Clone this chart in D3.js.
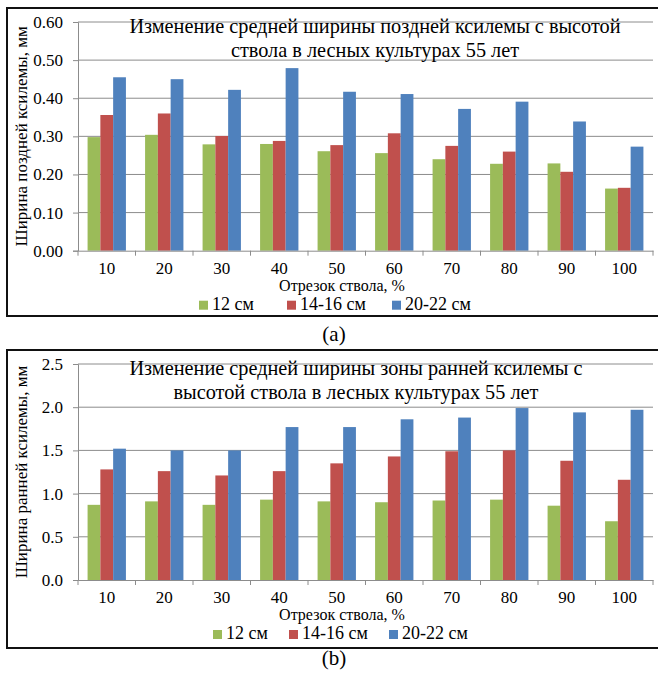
<!DOCTYPE html>
<html>
<head>
<meta charset="utf-8">
<script src="https://cdn.jsdelivr.net/npm/d3@7"></script>
<style>
  body { margin: 0; background: #fff; }
</style>
</head>
<body>
<div id="grafico"></div>
<script>
// Отрезки ствола, %
const segments = [10, 20, 30, 40, 50, 60, 70, 80, 90, 100]
const seriesNames = ["12 см", "14-16 см", "20-22 см"]
const seriesColors = ["#9BBB59", "#C0504D", "#4F81BD"]

// (a) поздняя ксилема, мм
const late12 = [0.298, 0.304, 0.279, 0.280, 0.261, 0.256, 0.240, 0.228, 0.229, 0.163]
const late14 = [0.356, 0.360, 0.301, 0.288, 0.277, 0.308, 0.275, 0.260, 0.207, 0.165]
const late20 = [0.455, 0.450, 0.422, 0.479, 0.417, 0.411, 0.372, 0.391, 0.339, 0.273]
const lateTicks = [0, 0.1, 0.2, 0.3, 0.4, 0.5, 0.6]

// (b) ранняя ксилема, мм
const early12 = [0.87, 0.91, 0.87, 0.93, 0.91, 0.90, 0.92, 0.93, 0.86, 0.68]
const early14 = [1.28, 1.26, 1.21, 1.26, 1.35, 1.43, 1.49, 1.50, 1.38, 1.16]
const early20 = [1.52, 1.50, 1.50, 1.77, 1.77, 1.86, 1.88, 1.99, 1.94, 1.97]
const earlyTicks = [0, 0.5, 1.0, 1.5, 2.0, 2.5]

const W = 658, H = 674
const FONT = "Liberation Serif, serif"

const svg = d3.select("#grafico")
  .append("svg")
    .attr("width", W)
    .attr("height", H)
    .attr("font-family", FONT)

function drawChart(opt) {
  const g = svg.append("g").attr("transform", `translate(0,${opt.top})`)
  const plotTop = 14, plotBottom = opt.plotBottom, plotLeft = 78, plotRight = 653

  // рамка
  g.append("rect")
    .attr("x", 7).attr("y", 0)
    .attr("width", 670).attr("height", opt.frameH)
    .attr("fill", "none").attr("stroke", "#111").attr("stroke-width", 2)

  const x = d3.scaleBand().domain(segments).range([plotLeft, plotRight]).padding(0)
  const xs = d3.scaleBand().domain(seriesNames).range([0, x.bandwidth()])
    .paddingInner(0).paddingOuter(0.75)
  const y = d3.scaleLinear().domain([0, opt.max]).range([plotBottom, plotTop])

  // сетка
  g.append("g").selectAll("line")
    .data(opt.ticks.slice(1))
    .join("line")
      .attr("x1", plotLeft).attr("x2", plotRight)
      .attr("y1", d => y(d)).attr("y2", d => y(d))
      .attr("stroke", "#8c8c8c").attr("stroke-width", 1)

  // заголовок
  const title = g.append("text")
    .attr("text-anchor", "middle")
    .attr("font-family", FONT)
    .attr("font-size", "20.3px")
  opt.title.forEach((t, i) => {
    title.append("tspan").attr("x", opt.titleX).attr("y", 25 + i * 24).text(t)
  })

  // столбцы
  const rows = segments.map((s, i) => ({seg: s, vals: opt.data.map(a => a[i])}))
  g.append("g").selectAll("g")
    .data(rows)
    .join("g")
      .attr("transform", d => `translate(${x(d.seg)},0)`)
    .selectAll("rect")
    .data(d => d.vals.map((v, k) => ({name: seriesNames[k], v, k})))
    .join("rect")
      .attr("x", d => xs(d.name))
      .attr("y", d => y(d.v))
      .attr("width", xs.bandwidth())
      .attr("height", d => plotBottom - y(d.v))
      .attr("fill", d => seriesColors[d.k])

  // ось Y
  const yAxis = g.append("g")
    .attr("transform", `translate(${plotLeft},0)`)
    .call(d3.axisLeft(y).tickValues(opt.ticks).tickFormat(d3.format(opt.fmt)).tickSize(5).tickPadding(10))
    .attr("font-family", FONT)
    .attr("font-size", 17)
  yAxis.select(".domain").attr("stroke", "#8c8c8c")
  yAxis.selectAll(".tick line").attr("stroke", "#8c8c8c")
  yAxis.selectAll("text").attr("fill", "#000")

  // ось X
  const xAxis = g.append("g")
    .attr("transform", `translate(0,${plotBottom})`)
    .call(d3.axisBottom(x).tickSize(0).tickPadding(11))
    .attr("font-family", FONT)
    .attr("font-size", 17)
  xAxis.select(".domain").attr("stroke", "#8c8c8c")
  xAxis.selectAll("text").attr("fill", "#000")
  g.append("g").selectAll("line")
    .data(segments.map(s => x(s)).concat([plotRight]))
    .join("line")
      .attr("x1", d => d).attr("x2", d => d)
      .attr("y1", plotBottom).attr("y2", plotBottom + 5)
      .attr("stroke", "#8c8c8c")

  // подписи осей
  g.append("text")
    .attr("transform", `translate(27,${(plotTop + plotBottom) / 2}) rotate(-90)`)
    .attr("text-anchor", "middle")
    .attr("font-family", FONT)
    .attr("font-size", "17px")
    .text(opt.yLabel)
  g.append("text")
    .attr("x", 342).attr("y", plotBottom + 40)
    .attr("text-anchor", "middle")
    .attr("font-family", FONT)
    .attr("font-size", "16px")
    .text("Отрезок ствола, %")

  // легенда
  const leg = g.append("g").attr("transform", `translate(0,${plotBottom + 58})`)
  const legItems = leg.selectAll("g")
    .data(seriesNames)
    .join("g")
      .attr("transform", (d, i) => `translate(${opt.legendX[i]},0)`)
  legItems.append("rect")
    .attr("x", 0).attr("y", -8).attr("width", 9).attr("height", 9)
    .attr("fill", (d, i) => seriesColors[i])
  legItems.append("text")
    .attr("x", 13).attr("y", 1)
    .attr("font-family", FONT)
    .attr("font-size", "18px")
    .text(d => d)

  // подпись рисунка
  svg.append("text")
    .attr("x", 334).attr("y", opt.top + opt.frameH + opt.capDy)
    .attr("text-anchor", "middle")
    .attr("font-family", FONT)
    .attr("font-size", "21px")
    .text(opt.caption)
}

drawChart({
  top: 8, frameH: 308, plotBottom: 242.7, max: 0.6, ticks: lateTicks, fmt: ".2f",
  data: [late12, late14, late20],
  title: ["Изменение средней ширины поздней ксилемы с высотой", "ствола в лесных культурах 55 лет"],
  titleX: 375,
  yLabel: "Ширина поздней ксилемы, мм",
  legendX: [199, 287, 392],
  caption: "(a)", capDy: 25
})

drawChart({
  top: 350, frameH: 298, plotBottom: 230, max: 2.5, ticks: earlyTicks, fmt: ".1f",
  data: [early12, early14, early20],
  title: ["Изменение средней ширины зоны ранней ксилемы с", "высотой ствола в лесных культурах 55 лет"],
  titleX: 356,
  yLabel: "Ширина ранней ксилемы, мм",
  legendX: [213, 289, 389],
  caption: "(b)", capDy: 17
})
</script>
</body>
</html>
